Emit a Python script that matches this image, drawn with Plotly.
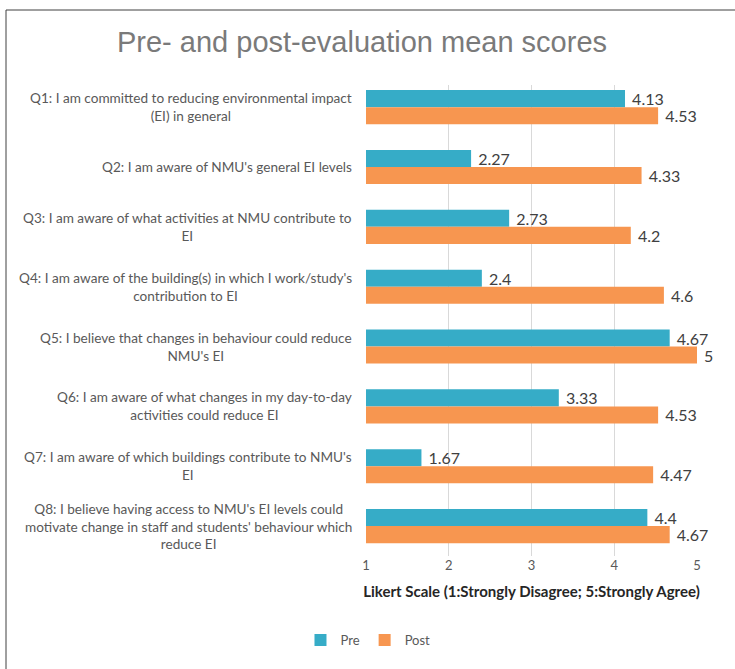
import plotly.graph_objects as go

categories = ["Q1", "Q2", "Q3", "Q4", "Q5", "Q6", "Q7", "Q8"]
category_labels = [
    "Q1: I am committed to reducing environmental impact<br>(EI) in general",
    "Q2: I am aware of NMU's general EI levels",
    "Q3: I am aware of what activities at NMU contribute to<br>EI",
    "Q4: I am aware of the building(s) in which I work/study's<br>contribution to EI",
    "Q5: I believe that changes in behaviour could reduce<br>NMU's EI",
    "Q6: I am aware of what changes in my day-to-day<br>activities could reduce EI",
    "Q7: I am aware of which buildings contribute to NMU's<br>EI",
    "Q8: I believe having access to NMU's EI levels could<br>motivate change in staff and students' behaviour which<br>reduce EI",
]
pre_values = [4.13, 2.27, 2.73, 2.4, 4.67, 3.33, 1.67, 4.4]
post_values = [4.53, 4.33, 4.2, 4.6, 5, 4.53, 4.47, 4.67]
x_ticks = [1, 2, 3, 4, 5]

FONT = "Lato"
PRE_COLOR = "#36acc7"
POST_COLOR = "#f79650"

fig = go.Figure()
for name, vals, color in [("Pre", pre_values, PRE_COLOR), ("Post", post_values, POST_COLOR)]:
    fig.add_trace(go.Bar(
        name=name, y=categories, x=vals, orientation="h",
        marker=dict(color=color, line=dict(width=0)),
        text=[f"\u00a0{v:g}" for v in vals], textposition="outside",
        textfont=dict(family=FONT, size=16, color="#404040"),
        constraintext="none", cliponaxis=False,
    ))

for cat, lab in zip(categories, category_labels):
    fig.add_annotation(
        x=0, xref="paper", y=cat, yref="y", text=lab, showarrow=False,
        xanchor="right", yanchor="middle", align="center", xshift=-12,
        font=dict(family=FONT, size=13.6, color="#595959"),
    )

# chart frame
fig.add_shape(type="rect", xref="paper", yref="paper",
              x0=(6 - 366) / 331, x1=2.0, y0=-1.0, y1=(556 - 10) / 471,
              line=dict(color="#404040", width=1), fillcolor="rgba(0,0,0,0)", layer="below")

fig.update_layout(
    width=735, height=669,
    margin=dict(l=366, r=38, t=85, b=113, autoexpand=False),
    paper_bgcolor="white", plot_bgcolor="white",
    barmode="group", bargap=0.43, bargroupgap=0,
    title=dict(text="Pre- and post-evaluation mean scores", x=362 / 735, xanchor="center",
               y=1 - 42 / 669, yanchor="middle",
               font=dict(family="Liberation Sans", size=29, color="#7a7a7a")),
    xaxis=dict(range=[1, 5], tickvals=x_ticks, showgrid=True, gridcolor="#d9d9d9", gridwidth=1,
               zeroline=False, showline=False, ticks="",
               tickfont=dict(family=FONT, size=13, color="#595959"),
               title=dict(text="<b>Likert Scale (1:Strongly Disagree; 5:Strongly Agree)</b>",
                          font=dict(family=FONT, size=15, color="#262626"), standoff=14)),
    yaxis=dict(categoryorder="array", categoryarray=categories, range=[7.5, -0.37],
               showticklabels=False, showgrid=False, zeroline=False, ticks=""),
    legend=dict(orientation="h", x=0.006, xanchor="center", y=(556 - 640) / 471, yanchor="middle",
                font=dict(family=FONT, size=13, color="#595959"), itemwidth=30,
                traceorder="normal"),
    showlegend=True,
)

fig.write_html("out.html", post_script="document.body.style.margin='0';",
               config={"displayModeBar": False})
